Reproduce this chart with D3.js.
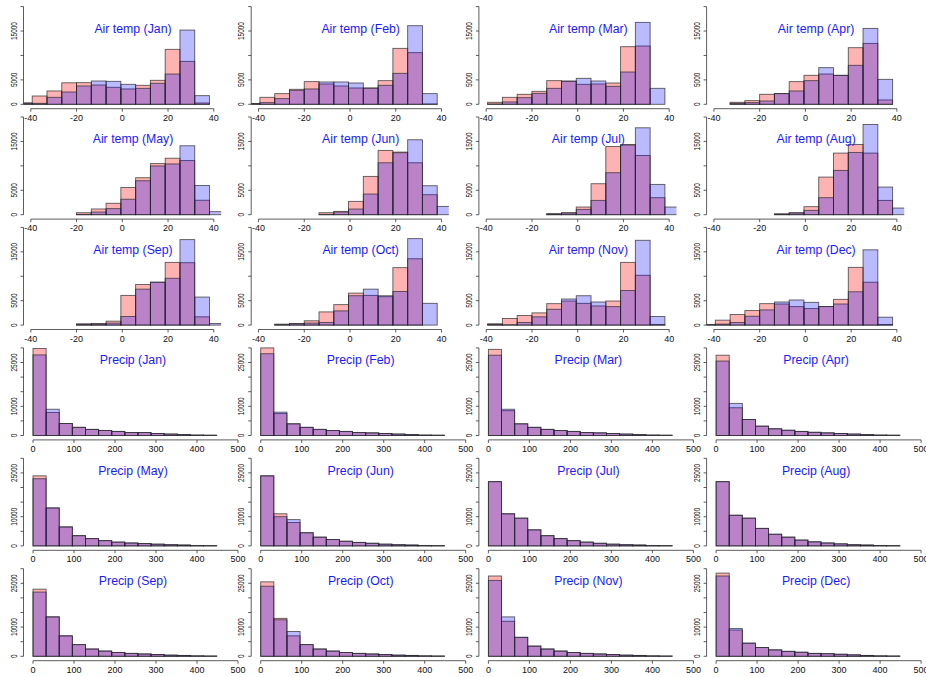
<!DOCTYPE html>
<html lang="en">
<head>
<meta charset="UTF-8">
<title>Air temp and precip histograms</title>
<script src="https://d3js.org/d3.v7.min.js"></script>
<style>
  body { margin: 0; background: #fff; }
  text { font-family: "Liberation Sans", Arial, sans-serif; }
</style>
</head>
<body>
<svg id="chart"></svg>
<script>
// Data
const months = ["Jan", "Feb", "Mar", "Apr", "May", "Jun", "Jul", "Aug", "Sep", "Oct", "Nov", "Dec"];

const tempBreaks = [-45.85, -39.39, -32.93, -26.47, -20.01, -13.55, -7.09, -0.63, 5.83, 12.29, 18.75, 25.21, 31.67, 38.13, 44.59];
const tempTicks = [-40, -20, 0, 20, 40];
const tempYTicks = [0, 5000, 10000, 15000, 20000];
const tempYLabels = [0, 5000, 15000];

// one row per month, one value per bin
const tempRed = [
  [300, 1700, 2730, 4400, 4430, 3950, 3480, 3140, 3890, 4910, 11250, 8790, 270, 0],
  [150, 1430, 2180, 3070, 4640, 4160, 3750, 3340, 3340, 4840, 11450, 10570, 70, 0],
  [0, 410, 1430, 2050, 2660, 4840, 4770, 4090, 4160, 4360, 11790, 11930, 0, 0],
  [0, 0, 410, 750, 2050, 2180, 4640, 5930, 6200, 5930, 11590, 12470, 890, 0],
  [0, 0, 0, 0, 410, 1170, 2340, 5570, 7570, 10460, 11560, 11080, 2960, 0],
  [0, 0, 0, 0, 0, 410, 680, 2730, 7840, 13160, 12820, 10630, 4090, 0],
  [0, 0, 0, 0, 0, 200, 410, 1570, 6340, 13970, 14380, 12130, 3480, 0],
  [0, 0, 0, 0, 0, 200, 410, 1640, 7700, 12610, 14380, 12610, 2930, 0],
  [0, 0, 0, 0, 270, 340, 810, 6080, 8310, 8780, 12840, 12770, 1690, 0],
  [0, 0, 200, 340, 880, 2700, 4190, 6550, 6080, 5810, 11760, 13580, 0, 0],
  [0, 270, 1350, 1960, 2500, 4390, 4930, 4460, 3920, 4930, 12840, 10200, 140, 0],
  [140, 1010, 2160, 2970, 4390, 4320, 3780, 3380, 3800, 5270, 11820, 8780, 140, 0]
];
const tempBlue = [
  [200, 200, 1430, 2520, 3750, 4770, 4700, 4090, 3270, 4300, 6200, 15200, 1770, 0],
  [150, 340, 1160, 2860, 3140, 4570, 4570, 4360, 3300, 3890, 6340, 16090, 2180, 0],
  [0, 70, 480, 1360, 2250, 3270, 4700, 5320, 4770, 3680, 6610, 16770, 3270, 0],
  [0, 0, 200, 340, 680, 2200, 2730, 4840, 7500, 5930, 7980, 15540, 5110, 0],
  [0, 0, 0, 0, 70, 550, 1240, 3170, 6950, 9980, 10390, 14110, 5990, 620],
  [0, 0, 0, 0, 0, 70, 550, 1160, 4230, 10630, 12680, 15340, 5930, 1700],
  [0, 0, 0, 0, 0, 150, 340, 1090, 2930, 8590, 14250, 17790, 6200, 1570],
  [0, 0, 0, 0, 0, 70, 340, 890, 3480, 9070, 12750, 18470, 5660, 1360],
  [0, 0, 0, 0, 140, 200, 410, 1760, 7360, 8780, 9590, 17500, 5740, 340],
  [0, 0, 70, 270, 410, 540, 2910, 6010, 7360, 6010, 6890, 17700, 4460, 0],
  [0, 140, 70, 540, 1690, 3240, 5340, 6010, 4730, 3780, 7090, 17360, 1760, 0],
  [70, 200, 540, 1820, 3110, 4730, 5140, 4660, 3780, 4320, 6820, 15410, 1620, 0]
];

const precipBreaks = [0, 32, 64, 96, 128, 160, 192, 224, 256, 288, 320, 352, 384, 416, 448];
const precipTicks = [0, 100, 200, 300, 400, 500];
const precipYTicks = [0, 5000, 10000, 15000, 20000, 25000, 30000];
const precipYLabels = [0, 10000, 25000];

const precipRed = [
  [29800, 7900, 4100, 2800, 2100, 1700, 1400, 1000, 1000, 700, 500, 300, 150, 100],
  [30000, 7500, 4000, 2800, 2100, 1700, 1400, 1000, 900, 700, 500, 300, 150, 100],
  [29500, 8500, 4000, 2800, 2100, 1700, 1400, 1000, 900, 700, 500, 300, 150, 100],
  [27500, 9500, 5500, 3200, 2300, 1800, 1400, 1100, 900, 700, 500, 300, 150, 100],
  [24000, 13000, 6500, 3500, 2500, 1800, 1300, 1000, 800, 600, 400, 300, 150, 100],
  [24000, 11000, 8000, 4500, 3000, 2200, 1600, 1200, 900, 600, 400, 300, 150, 100],
  [22000, 11000, 9500, 5500, 3500, 2500, 1800, 1300, 900, 600, 400, 300, 150, 100],
  [22000, 10500, 9500, 6000, 4000, 3000, 2000, 1400, 1000, 700, 400, 300, 150, 100],
  [23000, 13500, 7000, 4000, 2500, 1800, 1300, 1000, 800, 600, 400, 300, 150, 100],
  [25500, 13000, 7000, 4000, 2500, 1800, 1300, 1000, 800, 600, 400, 300, 150, 100],
  [27500, 12000, 6500, 3500, 2500, 1800, 1300, 1000, 800, 600, 400, 300, 150, 100],
  [28500, 9000, 4500, 3000, 2200, 1700, 1400, 1000, 900, 700, 500, 300, 150, 100]
];
const precipBlue = [
  [27600, 9000, 4100, 2800, 2100, 1700, 1400, 1000, 1000, 700, 500, 300, 150, 100],
  [28000, 8000, 4000, 2800, 2100, 1700, 1400, 1000, 900, 700, 500, 300, 150, 100],
  [27500, 9000, 4000, 2800, 2100, 1700, 1400, 1000, 900, 700, 500, 300, 150, 100],
  [25500, 11000, 5500, 3200, 2300, 1800, 1400, 1100, 900, 700, 500, 300, 150, 100],
  [23000, 13000, 6500, 3500, 2500, 1800, 1300, 1000, 800, 600, 400, 300, 150, 100],
  [24000, 10000, 9000, 4500, 3000, 2200, 1600, 1200, 900, 600, 400, 300, 150, 100],
  [22000, 11000, 9500, 5500, 3500, 2500, 1800, 1300, 900, 600, 400, 300, 150, 100],
  [22000, 10500, 9500, 6000, 4000, 3000, 2000, 1400, 1000, 700, 400, 300, 150, 100],
  [22000, 13500, 7000, 4000, 2500, 1800, 1300, 1000, 800, 600, 400, 300, 150, 100],
  [24000, 12500, 8500, 4000, 2500, 1800, 1300, 1000, 800, 600, 400, 300, 150, 100],
  [26000, 13500, 6500, 3500, 2500, 1800, 1300, 1000, 800, 600, 400, 300, 150, 100],
  [27500, 9500, 4500, 3000, 2200, 1700, 1400, 1000, 900, 700, 500, 300, 150, 100]
];

// Layout
const width = 926, height = 677;
const colStep = 227.7, rowStep = 110.4;
const plotLeft = 23.5, plotWidth = 197.6, baseY = 104.3;

const svg = d3.select("#chart").attr("width", width).attr("height", height);

const panels = [];
months.forEach((m, i) => panels.push({ title: "Air temp (" + m + ")", kind: "temp", month: i, idx: i }));
months.forEach((m, i) => panels.push({ title: "Precip (" + m + ")", kind: "precip", month: i, idx: i + 12 }));

panels.forEach(p => {
  const col = p.idx % 4, row = Math.floor(p.idx / 4);
  const ox = col * colStep, oy = row * rowStep;
  const isTemp = p.kind === "temp";
  const breaks = isTemp ? tempBreaks : precipBreaks;
  const red = isTemp ? tempRed[p.month] : precipRed[p.month];
  const blue = isTemp ? tempBlue[p.month] : precipBlue[p.month];
  const xTicks = isTemp ? tempTicks : precipTicks;
  const yTicks = isTemp ? tempYTicks : precipYTicks;
  const yLabels = isTemp ? tempYLabels : precipYLabels;

  const x = isTemp
    ? d3.scaleLinear().domain([-43.2, 43.2]).range([ox + plotLeft, ox + plotLeft + plotWidth])
    : d3.scaleLinear().domain([0, 500]).range([ox + 33, ox + 238]);
  const clipW = isTemp ? plotWidth : 216;
  const yMax = isTemp ? 20000 : 30000;
  const yPx = isTemp ? 97.7 : 87.6;
  const y = d3.scaleLinear().domain([0, yMax]).range([oy + baseY, oy + baseY - yPx]);

  const g = svg.append("g");
  const clipId = "clip" + p.idx;
  g.append("clipPath").attr("id", clipId)
    .append("rect")
    .attr("x", ox + plotLeft).attr("y", oy)
    .attr("width", clipW).attr("height", rowStep);

  const bars = g.append("g").attr("clip-path", "url(#" + clipId + ")");
  [[red, "rgba(255,0,0,0.3)"], [blue, "rgba(0,0,255,0.27)"]].forEach(([vals, fill]) => {
    bars.selectAll(null)
      .data(vals.map((v, k) => ({ v, x0: breaks[k], x1: breaks[k + 1] })))
      .join("rect")
      .attr("x", d => x(d.x0))
      .attr("width", d => x(d.x1) - x(d.x0))
      .attr("y", d => y(d.v))
      .attr("height", d => y(0) - y(d.v))
      .attr("fill", fill)
      .attr("stroke", "rgba(40,40,40,0.75)")
      .attr("stroke-width", 0.9);
  });

  // x axis
  const axisY = oy + baseY + 4.4;
  g.append("line")
    .attr("x1", x(xTicks[0])).attr("x2", x(xTicks[xTicks.length - 1]))
    .attr("y1", axisY).attr("y2", axisY)
    .attr("stroke", "#333").attr("stroke-width", 0.8);
  g.selectAll(".xt").data(xTicks).join("line")
    .attr("x1", d => x(d)).attr("x2", d => x(d))
    .attr("y1", axisY).attr("y2", axisY + 3)
    .attr("stroke", "#333").attr("stroke-width", 0.8);
  g.selectAll(".xl").data(xTicks).join("text")
    .attr("x", d => x(d)).attr("y", axisY + 12)
    .attr("text-anchor", "middle")
    .attr("font-size", 9)
    .attr("fill", "#111")
    .text(d => d);

  // y axis
  const axisX = ox + plotLeft;
  g.append("line")
    .attr("x1", axisX).attr("x2", axisX)
    .attr("y1", y(yTicks[0])).attr("y2", y(yTicks[yTicks.length - 1]))
    .attr("stroke", "#333").attr("stroke-width", 0.8);
  g.selectAll(".yt").data(yTicks).join("line")
    .attr("x1", axisX - 3).attr("x2", axisX)
    .attr("y1", d => y(d)).attr("y2", d => y(d))
    .attr("stroke", "#333").attr("stroke-width", 0.8);
  g.selectAll(".yl").data(yLabels).join("text")
    .attr("transform", d => `translate(${axisX - 7},${y(d)}) rotate(-90) scale(0.72,1)`)
    .attr("text-anchor", "middle")
    .attr("font-size", 9)
    .attr("fill", "#111")
    .text(d => d);

  // title
  g.append("text")
    .attr("x", ox + 133)
    .attr("y", oy + 33)
    .attr("text-anchor", "middle")
    .attr("font-size", 12.3)
    .attr("fill", "#1a1aff")
    .text(p.title);
});
</script>
</body>
</html>
